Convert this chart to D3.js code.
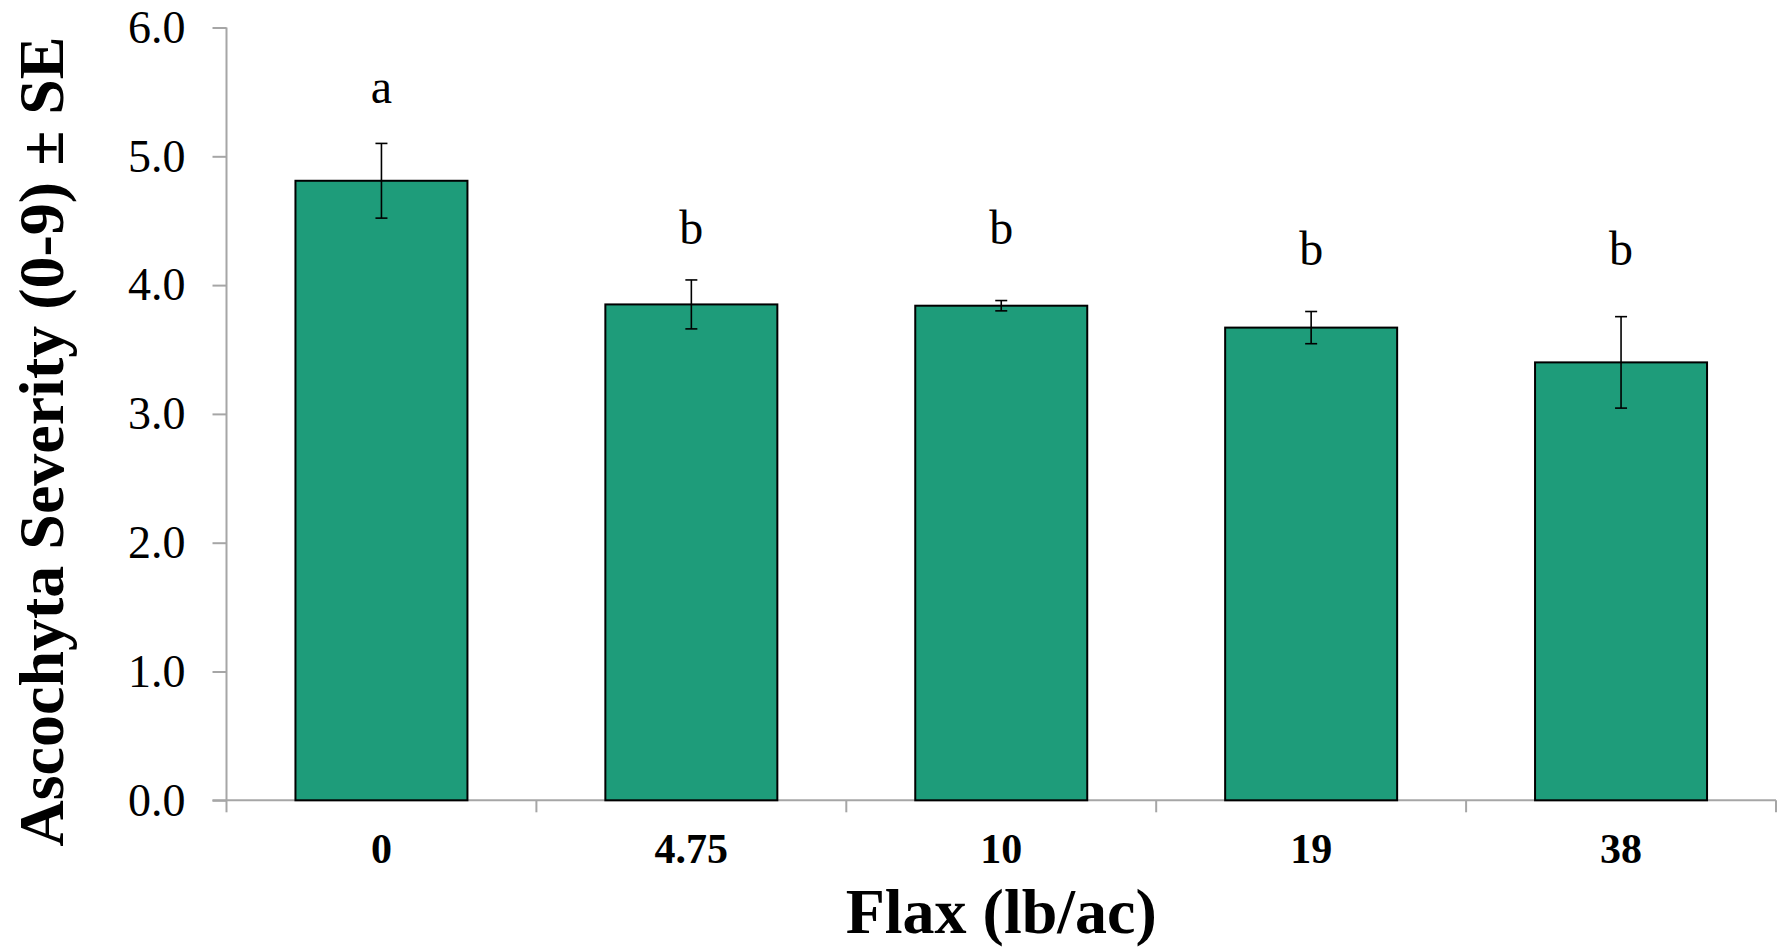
<!DOCTYPE html>
<html>
<head>
<meta charset="utf-8">
<script src="https://cdn.jsdelivr.net/npm/d3@7"></script>
<style>
  body { margin: 0; background: #fff; }
  text { font-family: "Liberation Serif", "Times New Roman", serif; }
</style>
</head>
<body>
<div id="chart"></div>
<script>
var rates = ['0', '4.75', '10', '19', '38']
var severity = [4.81, 3.85, 3.84, 3.67, 3.40]
var stdErr = [0.29, 0.19, 0.04, 0.125, 0.355]
var letters = ['a', 'b', 'b', 'b', 'b']
// where each letter sits, in axis units
var letterAt = [5.41, 4.32, 4.32, 4.155, 4.155]
var yTicks = [0, 1, 2, 3, 4, 5, 6]

var width = 1785, height = 948
var margin = {top: 27.5, right: 9, bottom: 147.7, left: 226.5}
var axisColor = '#a6a6a6'

var svg = d3.select('#chart')
    .append('svg')
    .attr('width', width)
    .attr('height', height)

var x = d3.scaleBand()
    .domain(rates)
    .range([margin.left, width - margin.right])

var y = d3.scaleLinear()
    .domain([0, 6])
    .range([height - margin.bottom, margin.top])

var barW = x.bandwidth() * 0.555

// y axis
var yAxis = svg.append('g')
    .attr('transform', 'translate(' + margin.left + ',0)')
    .call(d3.axisLeft(y).tickValues(yTicks).tickSize(14).tickPadding(27).tickFormat(d3.format('.1f')))

yAxis.select('.domain').remove()
yAxis.selectAll('line').attr('stroke', axisColor).attr('stroke-width', 2)
yAxis.selectAll('text')
    .attr('fill', '#000')
    .style('font-size', '46px')

svg.append('line')
    .attr('x1', margin.left).attr('x2', margin.left)
    .attr('y1', y(6)).attr('y2', y(0))
    .attr('stroke', axisColor).attr('stroke-width', 2)

// x axis line and the ticks between categories
svg.append('line')
    .attr('x1', margin.left - 14).attr('x2', width - margin.right)
    .attr('y1', y(0)).attr('y2', y(0))
    .attr('stroke', axisColor).attr('stroke-width', 2)

var bounds = rates.map(function(d) { return x(d) }).concat([x.range()[1]])

svg.append('g')
    .selectAll('line')
    .data(bounds)
    .enter()
    .append('line')
    .attr('x1', function(d) { return d })
    .attr('x2', function(d) { return d })
    .attr('y1', y(0))
    .attr('y2', y(0) + 12)
    .attr('stroke', axisColor)
    .attr('stroke-width', 2)

svg.append('g')
    .selectAll('text')
    .data(rates)
    .enter()
    .append('text')
    .attr('x', function(d) { return x(d) + x.bandwidth() / 2 })
    .attr('y', y(0) + 63)
    .attr('text-anchor', 'middle')
    .style('font-size', '42px')
    .style('font-weight', 'bold')
    .text(function(d) { return d })

// bars
svg.append('g')
    .selectAll('rect')
    .data(severity)
    .enter()
    .append('rect')
    .attr('x', function(d, i) { return x(rates[i]) + (x.bandwidth() - barW) / 2 })
    .attr('y', function(d) { return y(d) })
    .attr('width', barW)
    .attr('height', function(d) { return y(0) - y(d) })
    .attr('fill', '#1e9c7a')
    .attr('stroke', '#000')
    .attr('stroke-width', 2)

// error bars
var err = svg.append('g')
    .selectAll('g')
    .data(severity)
    .enter()
    .append('g')
    .attr('stroke', '#000')
    .attr('stroke-width', 1.6)

err.append('line')
    .attr('x1', function(d, i) { return x(rates[i]) + x.bandwidth() / 2 })
    .attr('x2', function(d, i) { return x(rates[i]) + x.bandwidth() / 2 })
    .attr('y1', function(d, i) { return y(d + stdErr[i]) })
    .attr('y2', function(d, i) { return y(d - stdErr[i]) })

err.selectAll('.cap')
    .data(function(d, i) { return [[i, d + stdErr[i]], [i, d - stdErr[i]]] })
    .enter()
    .append('line')
    .attr('class', 'cap')
    .attr('x1', function(p) { return x(rates[p[0]]) + x.bandwidth() / 2 - 6 })
    .attr('x2', function(p) { return x(rates[p[0]]) + x.bandwidth() / 2 + 6 })
    .attr('y1', function(p) { return y(p[1]) })
    .attr('y2', function(p) { return y(p[1]) })

// significance letters
svg.append('g')
    .selectAll('text')
    .data(letters)
    .enter()
    .append('text')
    .attr('x', function(d, i) { return x(rates[i]) + x.bandwidth() / 2 })
    .attr('y', function(d, i) { return y(letterAt[i]) })
    .attr('text-anchor', 'middle')
    .style('font-size', '48px')
    .text(function(d) { return d })

// axis titles
svg.append('text')
    .attr('x', (margin.left + width - margin.right) / 2)
    .attr('y', 933)
    .attr('text-anchor', 'middle')
    .style('font-size', '64px')
    .style('font-weight', 'bold')
    .text('Flax (lb/ac)')

svg.append('text')
    .attr('transform', 'translate(63,441.5) rotate(-90)')
    .attr('text-anchor', 'middle')
    .style('font-size', '64px')
    .style('font-weight', 'bold')
    .text('Ascochyta Severity (0-9) ± SE')
</script>
</body>
</html>
